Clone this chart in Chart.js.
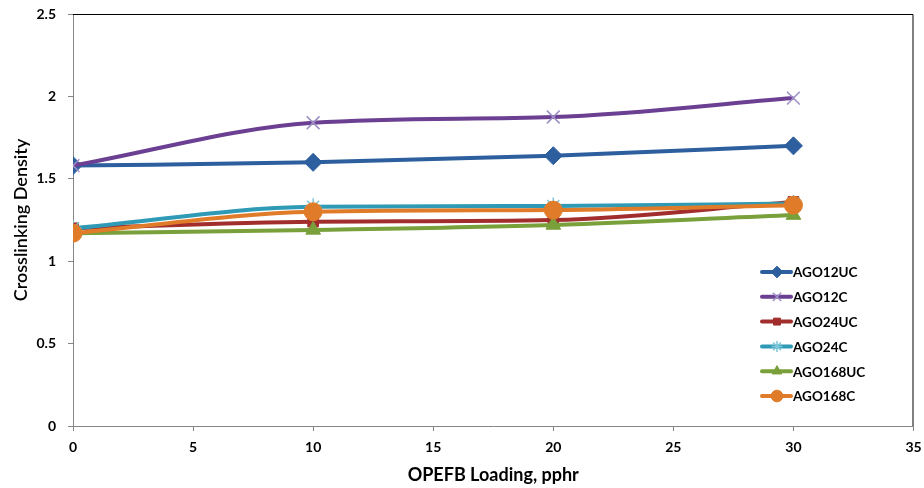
<!DOCTYPE html>
<html>
<head>
<meta charset="utf-8">
<script src="https://cdn.jsdelivr.net/npm/chart.js@4/dist/chart.umd.min.js"></script>
<style>
html,body{margin:0;padding:0;background:#fff;}
#wrap{position:relative;width:924px;height:488px;}
</style>
</head>
<body>
<div id="wrap"><canvas id="c" width="924" height="488"></canvas></div>
<script>
const loadings = [0, 10, 20, 30];
const seriesNames = ['AGO12UC', 'AGO12C', 'AGO24UC', 'AGO24C', 'AGO168UC', 'AGO168C'];
const ago12uc = [1.58, 1.60, 1.64, 1.70];
const ago12c = [1.58, 1.84, 1.875, 1.99];
const ago24uc = [1.20, 1.24, 1.25, 1.36];
const ago24c = [1.20, 1.33, 1.335, 1.35];
const ago168uc = [1.17, 1.19, 1.22, 1.28];
const ago168c = [1.17, 1.30, 1.31, 1.34];
const xTicks = [0, 5, 10, 15, 20, 25, 30, 35];
const yTicks = [0, 0.5, 1, 1.5, 2, 2.5];

const values = [ago12uc, ago12c, ago24uc, ago24c, ago168uc, ago168c];
const lineColors = ['#2D5F9E', '#6B3F91', '#A12E2C', '#2E9AB5', '#79A03A', '#E07C29'];
const markerColors = ['#2D5F9E', '#9D8EC6', '#A12E2C', '#7CC6DB', '#79A03A', '#E07C29'];
const markers = ['rectRot', 'crossRot', 'rect', 'star', 'triangle', 'circle'];
const radii = [9, 9, 7.5, 8.5, 8.5, 9];

const datasets = seriesNames.map((name, i) => ({
  label: name,
  data: loadings.map((x, j) => ({x: x, y: values[i][j]})),
  borderColor: lineColors[i],
  backgroundColor: markerColors[i],
  pointBackgroundColor: markerColors[i],
  pointBorderColor: markerColors[i],
  pointBorderWidth: (markers[i] === 'crossRot' || markers[i] === 'star') ? 1.5 : 1,
  pointStyle: markers[i],
  pointRadius: radii[i],
  borderWidth: 4,
  tension: 0.4,
  cubicInterpolationMode: 'monotone',
  fill: false,
  order: seriesNames.length - i
}));

const FONT = 'Lato, "Open Sans", "Liberation Sans", sans-serif';

const framePlugin = {
  id: 'frame',
  afterDraw(chart) {
    const ctx = chart.ctx;
    const a = chart.chartArea;
    ctx.save();
    ctx.strokeStyle = '#000';
    ctx.lineWidth = 1;
    ctx.beginPath();
    ctx.moveTo(a.left, a.top + 0.5);
    ctx.lineTo(a.right - 0.5, a.top + 0.5);
    ctx.lineTo(a.right - 0.5, a.bottom);
    ctx.stroke();
    // legend
    const lx = 760, ly0 = 272, dy = 24.8;
    ctx.font = 'bold 13.5px ' + FONT;
    ctx.textBaseline = 'middle';
    ctx.textAlign = 'left';
    chart.data.datasets.forEach((ds, i) => {
      const y = ly0 + i * dy;
      ctx.strokeStyle = ds.borderColor;
      ctx.lineWidth = 4;
      ctx.lineCap = 'round';
      ctx.beginPath();
      ctx.moveTo(lx + 2, y);
      ctx.lineTo(lx + 31, y);
      ctx.stroke();
      ctx.lineCap = 'butt';
      ctx.fillStyle = ds.pointBackgroundColor;
      ctx.strokeStyle = ds.pointBorderColor;
      ctx.lineWidth = ds.pointBorderWidth;
      Chart.helpers.drawPoint(ctx, {
        pointStyle: ds.pointStyle,
        radius: ds.pointRadius * 0.65,
        rotation: 0,
        borderWidth: ds.pointBorderWidth
      }, lx + 17, y);
      ctx.fillStyle = '#000';
      ctx.fillText(ds.label, lx + 33, y + 1);
    });
    ctx.restore();
  }
};

new Chart(document.getElementById('c'), {
  type: 'line',
  data: { datasets: datasets },
  options: {
    responsive: false,
    animation: false,
    devicePixelRatio: 1,
    layout: { padding: { top: 14, right: 6, left: 0, bottom: 0 } },
    plugins: {
      legend: { display: false },
      tooltip: { enabled: false }
    },
    scales: {
      x: {
        type: 'linear',
        min: 0, max: 35,
        afterBuildTicks(scale) { scale.ticks = xTicks.map(v => ({value: v})); },
        afterFit(scale) { scale.height = 62; scale.paddingLeft = 0; scale.paddingRight = 0; },
        ticks: { color: '#000', font: { family: FONT, size: 14, weight: 'bold' }, maxRotation: 0, padding: 8 },
        grid: { display: true, drawOnChartArea: false, drawTicks: true, tickLength: 5, color: '#868686' },
        border: { color: '#868686', width: 1 },
        title: { display: true, text: 'OPEFB Loading, pphr', color: '#000', font: { family: FONT, size: 18, weight: 'bold' }, padding: { top: 4, bottom: 2 } }
      },
      y: {
        type: 'linear',
        min: 0, max: 2.5,
        afterBuildTicks(scale) { scale.ticks = yTicks.map(v => ({value: v})); },
        afterFit(scale) { scale.width = 73; scale.paddingTop = 0; scale.paddingBottom = 0; },
        ticks: { color: '#000', font: { family: FONT, size: 14, weight: 'bold' }, padding: 12,
          callback: v => String(v) },
        grid: { display: true, drawOnChartArea: false, drawTicks: true, tickLength: 5, color: '#868686' },
        border: { color: '#868686', width: 1 },
        title: { display: true, text: 'Crosslinking Density', color: '#000', font: { family: FONT, size: 18, weight: '600' }, padding: { top: 10, bottom: 0 } }
      }
    }
  },
  plugins: [framePlugin]
});
</script>
</body>
</html>
